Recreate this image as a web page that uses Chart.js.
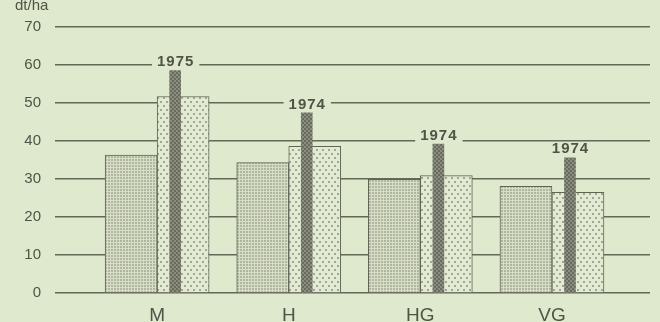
<!DOCTYPE html>
<html>
<head>
<meta charset="utf-8">
<script src="https://cdn.jsdelivr.net/npm/chart.js@4.4.1/dist/chart.umd.min.js"></script>
<style>
  html, body { margin: 0; padding: 0; background: rgb(222,233,206); }
  #wrap { width: 660px; height: 322px; }
</style>
</head>
<body>
<div id="wrap"><canvas id="c" width="660" height="322"></canvas></div>
<script>
// ---- data ----
const categories = ['M', 'H', 'HG', 'VG'];
const yieldA = [36.3, 34.3, 29.9, 28.1];     // darker stippled bars
const yieldB = [51.7, 38.6, 30.9, 26.5];     // lighter dotted bars
const peakYield = [58.5, 47.4, 39.2, 35.6];  // narrow dark bars (record year)
const peakYears = ['1975', '1974', '1974', '1974'];
const yTicks = [0, 10, 20, 30, 40, 50, 60, 70];
const unitLabel = 'dt/ha';

// ---- styles ----
const BG = 'rgb(222,233,206)';
const GRID = 'rgb(100,104,86)';
const TEXT = 'rgb(80,83,70)';
const FONT = '"Liberation Sans", Arial, Helvetica, sans-serif';

function makePattern(w, h, draw) {
  const cv = document.createElement('canvas');
  cv.width = w; cv.height = h;
  const g = cv.getContext('2d');
  draw(g);
  return document.getElementById('c').getContext('2d').createPattern(cv, 'repeat');
}
const patA = makePattern(3, 3, g => {
  g.fillStyle = 'rgb(214,222,198)'; g.fillRect(0, 0, 3, 3);
  g.fillStyle = 'rgb(176,182,160)';
  g.fillRect(0, 0, 2, 2);
});
const patB = makePattern(6, 8, g => {
  g.fillStyle = 'rgb(226,234,211)'; g.fillRect(0, 0, 6, 8);
  g.fillStyle = 'rgb(160,168,144)';
  g.fillRect(1, 1, 2, 2); g.fillRect(4, 5, 2, 2);
});
const patC = makePattern(4, 4, g => {
  g.fillStyle = 'rgb(138,142,127)'; g.fillRect(0, 0, 4, 4);
  g.fillStyle = 'rgb(104,107,94)';
  g.fillRect(0, 0, 2, 2); g.fillRect(2, 2, 2, 2);
});

const xMin = -0.776, xMax = 3.745, peakShift = 0.137;

const yearLabels = {
  id: 'yearLabels',
  afterDatasetsDraw(chart) {
    const ctx = chart.ctx;
    const meta = chart.getDatasetMeta(0);
    ctx.save();
    ctx.font = 'bold 15px ' + FONT;
    if ('letterSpacing' in ctx) ctx.letterSpacing = '1px';
    ctx.textAlign = 'center';
    ctx.textBaseline = 'middle';
    meta.data.forEach((el, i) => {
      const t = peakYears[i];
      const w = ctx.measureText(t).width;
      const x = el.x + 0.5, y = el.y - 8.5;
      ctx.fillStyle = BG;
      ctx.fillRect(x - w / 2 - 5, y - 7, w + 10, 14);
      ctx.fillStyle = TEXT;
      ctx.fillText(t, x, y);
    });
    ctx.restore();
  },
  afterDraw(chart) {
    const ctx = chart.ctx;
    ctx.save();
    ctx.font = '15px ' + FONT;
    ctx.fillStyle = TEXT;
    ctx.textAlign = 'left';
    ctx.textBaseline = 'alphabetic';
    ctx.fillText(unitLabel, 15, 10);
    ctx.restore();
  }
};

new Chart(document.getElementById('c'), {
  type: 'bar',
  data: {
    datasets: [
      {
        data: peakYield.map((v, i) => ({ x: i, y: v })),
        backgroundColor: patC,
        borderWidth: 0,
        grouped: false,
        barThickness: 11,
        xAxisID: 'x2',
        order: 0
      },
      {
        data: yieldA.map((v, i) => ({ x: i, y: v })),
        backgroundColor: patA,
        borderColor: 'rgb(96,100,84)',
        borderWidth: 1,
        barThickness: 52,
        xAxisID: 'x',
        order: 1
      },
      {
        data: yieldB.map((v, i) => ({ x: i, y: v })),
        backgroundColor: patB,
        borderColor: 'rgb(96,100,84)',
        borderWidth: 1,
        barThickness: 52,
        xAxisID: 'x',
        order: 1
      }
    ]
  },
  options: {
    responsive: false,
    animation: false,
    devicePixelRatio: 1,
    layout: { padding: { top: 27, right: 10, left: 0, bottom: 0 } },
    plugins: { legend: { display: false }, tooltip: { enabled: false } },
    scales: {
      x: {
        type: 'linear',
        offset: false,
        min: xMin, max: xMax,
        grid: { display: false },
        border: { display: false },
        afterBuildTicks: s => { s.ticks = categories.map((_, i) => ({ value: i })); },
        afterFit: s => { s.height = 29; },
        ticks: {
          autoSkip: false,
          maxRotation: 0,
          padding: 3,
          color: TEXT,
          font: { family: FONT, size: 19 },
          callback: v => categories[v]
        }
      },
      x2: {
        type: 'linear',
        offset: false,
        display: false,
        min: xMin - peakShift, max: xMax - peakShift
      },
      y: {
        min: 0, max: 70,
        afterBuildTicks: s => { s.ticks = yTicks.map(v => ({ value: v })); },
        afterFit: s => { s.width = 55; },
        grid: { color: GRID, lineWidth: 1.6, drawTicks: false },
        border: { display: false },
        ticks: {
          padding: 14,
          color: TEXT,
          font: { family: FONT, size: 15 }
        }
      }
    }
  },
  plugins: [yearLabels]
});
</script>
</body>
</html>
